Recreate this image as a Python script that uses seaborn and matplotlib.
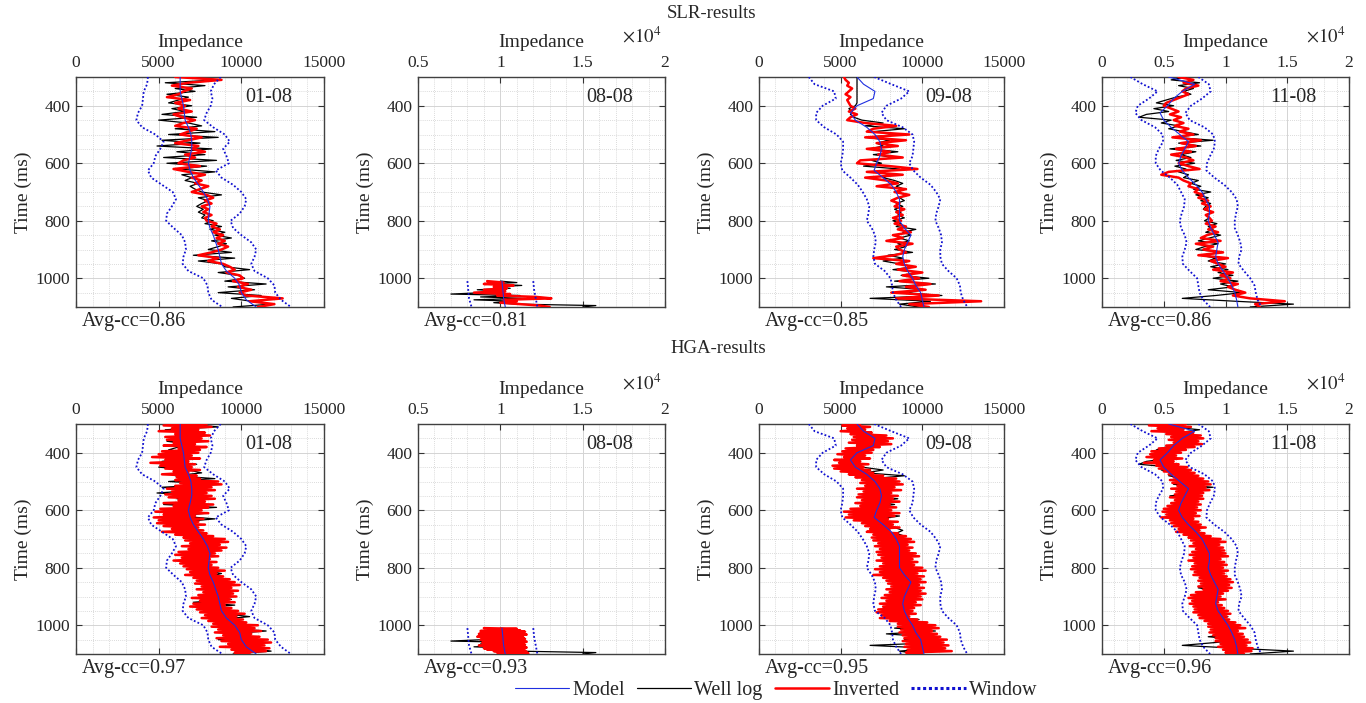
import numpy as np
import matplotlib
matplotlib.use("Agg")
import matplotlib.pyplot as plt
from matplotlib.lines import Line2D
from matplotlib.ticker import MultipleLocator, FuncFormatter
import seaborn as sns

# ---------------- data (impedance in thousands) ----------------
KILO = 1000.0
WELLS = ["01-08", "08-08", "09-08", "11-08"]
AVG_CC_SLR = [0.86, 0.81, 0.85, 0.86]
AVG_CC_HGA = [0.97, 0.93, 0.95, 0.96]

# sampling (start ms, step ms)
T0_FULL = 300
STEP_WIN = 25
STEP_LOG = 10
STEP_HGA = 5
T0_SHORT = 1010
STEP_WIN_SHORT = 30
STEP_LOG_SHORT = 5
STEP_HGA_SHORT = 2.5

# ---- 01-08 ----
model_0108 = [6.3, 6.3, 6.3, 6.4, 6.5, 6.55, 6.6, 6.8, 6.95, 7.0, 7.0, 6.9, 6.8, 6.9, 7.1, 7.4, 7.7,
              7.95, 8.1, 8.05, 8.0, 8.1, 8.3, 8.45, 8.6, 8.7, 8.8, 9.1, 9.6, 9.9, 10.0, 10.3, 10.9]
winlo_0108 = [4.35, 4.3, 4.1, 4.05, 4.0, 3.75, 3.65, 4.0, 4.8, 5.3, 5.1, 4.8, 4.7, 4.35, 4.55, 5.2, 5.85,
              6.05, 5.8, 5.5, 5.45, 5.9, 6.4, 6.6, 6.65, 6.5, 6.45, 6.8, 7.7, 7.95, 8.0, 8.2, 8.85]
winhi_0108 = [8.75, 8.35, 8.15, 8.25, 8.15, 7.9, 7.75, 8.3, 9.0, 9.3, 8.9, 9.1, 9.25, 8.45, 8.8, 9.5, 10.0,
              10.3, 10.2, 9.9, 9.35, 9.5, 10.0, 10.6, 10.9, 10.8, 10.6, 10.8, 11.6, 12.0, 12.05, 12.4, 13.0]
well_0108 = [6.5, 8.6, 5.4, 7.8, 6.0, 7.2, 5.5, 6.8, 6.2, 5.6,
             7.0, 5.8, 6.6, 5.2, 7.3, 5.0, 6.8, 7.6, 6.0, 8.4,
             5.6, 8.6, 5.2, 7.5, 4.9, 8.2, 6.1, 7.8, 5.3, 8.5,
             5.5, 7.9, 6.2, 8.4, 6.4, 7.0, 6.6, 7.4, 6.9, 7.2,
             7.6, 8.8, 7.4, 8.0, 7.6, 7.3, 7.7, 7.4, 7.8, 7.6,
             8.3, 7.8, 8.8, 8.1, 9.0, 8.4, 9.4, 8.2, 9.1, 8.6,
             8.0, 9.4, 7.1, 9.6, 7.4, 8.8, 9.0, 10.5, 8.6, 9.8,
             10.2, 9.0, 11.5, 9.2, 10.8, 8.6, 11.2, 9.4, 10.6, 11.8,
             9.5]
slr_0108 = [6.0, 8.8, 6.8, 5.8, 7.0, 6.5, 6.2, 5.5, 6.9, 6.0,
            6.6, 6.2, 7.0, 5.9, 6.4, 7.2, 6.5, 6.0, 7.3, 6.8,
            6.3, 7.6, 6.8, 6.0, 7.4, 7.0, 7.8, 6.6, 7.2, 6.5,
            6.2, 7.5, 5.9, 6.8, 7.8, 7.0, 7.6, 7.2, 8.0, 7.5,
            7.0, 7.9, 8.3, 7.8, 8.2, 7.6, 8.0, 7.7, 8.2, 7.8,
            7.9, 8.5, 8.2, 8.7, 8.3, 8.9, 8.5, 9.0, 8.6, 9.2,
            8.8, 8.2, 7.4, 8.6, 8.0, 8.9, 9.3, 9.6, 9.1, 9.9,
            10.1, 9.5, 10.4, 9.8, 10.6, 9.9, 10.3, 12.5, 10.5, 12.0,
            11.0]
hga_0108 = [7.9, 5.3, 8.2, 5.8, 7.4, 5.0, 7.8, 6.0, 8.1, 5.4,
            7.6, 5.5, 8.0, 5.9, 7.2, 5.3, 7.9, 6.2, 7.5, 5.2,
            7.4, 5.0, 7.0, 4.6, 7.5, 5.4, 6.8, 4.5, 7.2, 5.1,
            7.0, 5.4, 7.5, 5.9, 6.8, 5.2, 7.3, 6.1, 7.5, 6.0,
            8.6, 6.3, 8.8, 6.0, 8.2, 5.5, 8.4, 5.8, 7.9, 5.4,
            8.2, 5.6, 8.4, 6.2, 7.8, 5.3, 8.3, 5.9, 8.0, 5.1,
            7.6, 4.8, 8.0, 5.3, 7.2, 4.7, 7.7, 5.0, 7.4, 4.9,
            7.8, 5.3, 7.4, 5.8, 7.7, 5.2, 7.9, 6.0, 8.3, 6.5,
            9.0, 6.6, 9.2, 6.9, 8.7, 6.4, 9.1, 6.8, 8.8, 6.2,
            8.4, 6.0, 8.6, 6.4, 8.1, 5.9, 8.5, 6.3, 8.2, 6.5,
            8.6, 6.7, 9.0, 6.9, 8.5, 6.6, 8.9, 7.1, 9.3, 7.3,
            9.6, 7.2, 9.9, 7.6, 9.4, 7.3, 9.8, 7.7, 9.5, 7.4,
            9.7, 7.0, 9.3, 7.5, 9.6, 7.1, 9.0, 6.9, 9.4, 7.3,
            9.8, 7.5, 10.2, 7.8, 9.7, 7.6, 10.1, 8.0, 10.3, 8.3,
            11.0, 8.2, 10.8, 8.6, 11.2, 8.4, 10.6, 8.9, 11.1, 8.5,
            11.6, 8.8, 11.8, 9.2, 11.4, 8.7, 11.7, 9.4, 11.5, 9.6,
            10.5]

# ---- 08-08 (short interval) ----
model_0808 = [10.1, 10.15, 10.2, 10.3]
winlo_0808 = [8.0, 8.05, 8.1, 8.25]
winhi_0808 = [12.0, 12.05, 12.15, 12.25]
well_0808 = [10.0, 11.0, 9.2, 11.3, 9.6, 10.6, 8.6, 10.3, 9.0, 7.0,
             11.2, 8.8, 11.5, 8.4, 10.8, 9.6, 11.0, 15.8, 15.0]
slr_0808 = [9.2, 10.2, 9.0, 10.8, 9.6, 10.4, 9.0, 10.3, 8.4, 10.6,
            9.8, 12.2, 13.1, 10.2, 11.0, 10.0, 11.2, 12.4, 13.0]
hga_0808 = [9.0, 11.0, 9.3, 11.2, 8.8, 11.5, 9.1, 11.3, 8.7, 11.6,
            9.2, 11.1, 8.6, 11.4, 9.0, 11.5, 8.8, 11.2, 9.3, 11.6,
            8.9, 11.3, 9.1, 11.5, 8.7, 11.4, 9.4, 11.6, 9.0, 11.3,
            9.2, 11.5, 9.6, 11.6, 9.8, 11.7, 10.5]

# ---- 09-08 ----
model_0908 = [6.0, 6.4, 7.1, 7.0, 6.0, 5.6, 5.9, 6.6, 7.1, 7.4, 7.5, 7.4, 7.2, 7.05, 7.6, 8.1, 8.4,
              8.6, 8.6, 8.6, 8.6, 8.9, 9.3, 9.1, 8.9, 8.8, 8.9, 9.1, 9.4, 9.6, 9.9, 10.0, 10.1]
winlo_0908 = [3.05, 3.4, 4.6, 4.7, 3.9, 3.5, 3.5, 4.0, 4.75, 5.15, 5.15, 5.1, 5.0, 5.1, 5.6, 6.05, 6.35,
              6.6, 6.75, 6.7, 6.6, 6.9, 7.1, 7.15, 7.05, 7.0, 7.1, 7.7, 8.05, 8.15, 8.2, 8.4, 8.7]
winhi_0908 = [7.05, 8.1, 9.2, 8.7, 7.8, 7.5, 7.8, 8.8, 9.4, 9.5, 9.45, 9.4, 9.2, 9.45, 9.9, 10.5, 10.85,
              11.1, 11.0, 10.85, 10.8, 11.0, 11.15, 11.2, 11.1, 11.1, 11.2, 11.6, 12.1, 12.3, 12.35, 12.5, 12.75]
well_0908 = [6.0, 6.0, 6.0, 6.0, 6.0, 6.0, 6.0, 6.0, 6.0, 6.0,
             5.9, 5.5, 5.7, 5.6, 5.8, 6.3, 7.6, 6.5, 8.9, 7.0,
             8.4, 6.6, 8.0, 7.2, 7.6, 6.8, 8.5, 7.0, 8.3, 6.9,
             7.5, 6.4, 8.6, 7.4, 8.0, 7.6, 8.3, 8.8, 8.4, 8.9,
             8.5, 9.0, 8.6, 8.9, 8.4, 8.8, 8.3, 8.7, 8.5, 8.9,
             8.2, 8.7, 8.4, 9.6, 8.8, 9.3, 8.6, 9.2, 8.5, 9.0,
             8.3, 9.4, 7.9, 8.8, 7.6, 8.6, 9.5, 8.2, 9.8, 8.7,
             10.4, 8.3, 10.8, 7.8, 10.2, 8.9, 11.2, 6.8, 10.5, 8.6,
             9.8]
slr_0908 = [5.2, 5.3, 5.5, 5.4, 5.7, 5.5, 5.3, 5.6, 5.4, 5.5,
            5.6, 5.9, 5.5, 6.0, 5.6, 5.4, 6.5, 8.4, 7.0, 6.6,
            9.2, 6.5, 9.0, 7.2, 8.5, 6.6, 8.0, 7.3, 8.8, 6.2,
            6.0, 8.0, 9.7, 6.6, 8.8, 6.5, 7.8, 8.5, 7.2, 9.0,
            8.3, 9.2, 8.5, 8.1, 8.6, 8.3, 8.9, 8.4, 8.8, 8.2,
            8.7, 8.3, 9.0, 8.5, 9.3, 8.2, 8.8, 7.8, 9.4, 8.4,
            8.6, 9.0, 8.3, 7.0, 9.2, 8.4, 9.6, 8.5, 10.0, 8.8,
            9.8, 8.6, 10.5, 9.0, 10.2, 8.1, 11.0, 8.4, 13.6, 9.2,
            10.4]
hga_0908 = [6.2, 5.1, 6.8, 5.4, 6.5, 5.0, 6.9, 5.6, 7.8, 5.8,
            8.2, 5.7, 7.9, 5.5, 8.1, 6.0, 7.4, 5.3, 7.0, 5.1,
            6.9, 4.8, 6.5, 5.2, 6.8, 4.6, 6.2, 4.9, 6.7, 4.5,
            6.4, 4.6, 6.8, 5.0, 7.0, 5.5, 7.6, 5.9, 8.4, 6.3,
            8.6, 6.2, 8.8, 6.5, 8.3, 6.0, 8.7, 6.4, 8.1, 6.1,
            8.5, 6.0, 8.2, 6.3, 8.6, 5.9, 8.0, 6.2, 8.4, 5.6,
            8.1, 5.2, 8.6, 5.5, 8.3, 5.3, 7.9, 5.8, 8.5, 6.3,
            8.2, 6.5, 8.6, 6.8, 8.0, 6.6, 8.5, 7.0, 9.0, 6.9,
            9.3, 7.0, 9.5, 7.3, 9.1, 7.1, 9.4, 7.4, 9.2, 7.2,
            9.6, 7.3, 9.8, 7.5, 9.4, 7.2, 9.7, 7.6, 9.5, 7.4,
            10.0, 7.1, 10.2, 7.4, 9.7, 7.0, 10.1, 7.6, 9.9, 7.8,
            10.2, 7.9, 9.8, 8.1, 10.1, 7.8, 9.9, 8.0, 10.2, 7.7,
            9.9, 7.5, 10.0, 7.8, 9.6, 7.4, 9.9, 7.6, 9.5, 7.3,
            9.4, 7.2, 9.6, 7.5, 9.2, 7.4, 9.7, 8.0, 10.3, 8.5,
            10.8, 8.5, 11.0, 8.7, 10.6, 8.6, 10.9, 8.8, 11.1, 8.9,
            11.5, 8.8, 11.3, 9.0, 11.6, 8.9, 11.4, 9.1, 11.8, 9.0,
            10.0]

# ---- 11-08 ----
model_1108 = [5.4, 7.5, 6.5, 5.8, 5.3, 4.7, 5.0, 5.6, 6.3, 7.0, 6.7, 6.4, 6.2, 6.5, 7.0, 7.6, 8.1,
              8.4, 8.7, 8.7, 8.6, 8.8, 9.1, 9.4, 9.3, 9.2, 9.4, 9.8, 10.2, 10.5, 10.75, 10.9, 11.0]
winlo_1108 = [2.3, 3.3, 4.5, 3.8, 2.9, 2.7, 3.2, 4.3, 4.9, 4.95, 4.6, 4.35, 4.35, 4.75, 5.5, 6.1, 6.4,
              6.7, 6.65, 6.45, 6.3, 6.4, 6.7, 6.85, 6.7, 6.5, 6.55, 7.1, 7.7, 7.8, 7.9, 8.2, 8.75]
winhi_1108 = [7.8, 8.65, 8.8, 8.1, 7.2, 6.75, 7.1, 8.3, 9.0, 9.15, 9.05, 8.75, 8.5, 8.45, 9.1, 9.9, 10.5,
              10.9, 11.0, 10.85, 10.75, 10.75, 11.0, 11.2, 11.3, 11.1, 11.05, 11.5, 12.0, 12.35, 12.45, 12.6, 12.9]
well_1108 = [6.8, 5.6, 7.9, 6.2, 7.4, 6.6, 7.2, 6.0, 5.2, 4.4,
             5.8, 4.2, 5.4, 3.6, 3.0, 5.6, 4.8, 6.2, 5.4, 6.6,
             7.8, 5.8, 9.0, 6.2, 8.0, 5.5, 7.6, 6.4, 7.2, 6.0,
             7.5, 5.9, 6.8, 6.2, 7.0, 6.6, 7.8, 7.2, 8.0, 7.4,
             8.8, 7.6, 8.6, 8.0, 8.8, 8.4, 8.2, 8.9, 8.5, 8.7,
             8.3, 9.3, 8.6, 9.0, 8.4, 9.6, 8.7, 7.8, 9.4, 8.3,
             7.6, 9.8, 8.0, 9.2, 8.6, 10.0, 8.8, 10.2, 9.4, 10.6,
             9.0, 11.0, 9.6, 10.6, 8.6, 11.4, 9.2, 6.5, 10.8, 15.5,
             12.0]
slr_1108 = [6.2, 7.4, 6.6, 7.8, 6.8, 6.5, 7.0, 6.4, 5.8, 5.2,
            5.0, 5.6, 6.2, 5.5, 6.4, 5.8, 6.6, 5.9, 7.0, 6.3,
            7.4, 5.7, 8.0, 6.4, 7.6, 6.0, 7.2, 5.6, 6.8, 7.4,
            6.2, 7.0, 7.9, 5.4, 4.8, 6.2, 6.6, 7.2, 7.0, 7.8,
            7.5, 8.2, 7.8, 8.6, 8.1, 8.8, 8.3, 9.0, 8.4, 8.7,
            8.9, 8.4, 9.2, 8.6, 9.4, 8.5, 8.0, 9.6, 7.6, 9.0,
            8.2, 9.8, 7.8, 10.2, 8.8, 9.4, 10.0, 9.0, 10.6, 9.6,
            10.4, 9.6, 11.0, 10.2, 10.8, 11.6, 10.6, 12.0, 14.8, 12.4,
            12.8]
hga_1108 = [6.8, 3.8, 7.2, 4.5, 6.6, 4.0, 7.4, 5.2, 8.0, 5.6,
            8.2, 5.4, 7.8, 5.8, 8.1, 5.2, 7.5, 4.6, 6.8, 4.0,
            6.4, 3.9, 6.0, 3.6, 6.5, 4.2, 5.8, 3.4, 6.2, 4.4,
            6.9, 4.6, 7.2, 5.0, 7.5, 5.4, 7.8, 5.8, 8.2, 5.5,
            8.6, 5.7, 8.8, 6.1, 8.4, 5.6, 8.7, 6.0, 8.2, 5.9,
            8.1, 5.5, 8.2, 5.9, 7.8, 5.6, 8.0, 5.3, 7.7, 5.0,
            8.0, 4.9, 7.6, 5.2, 7.9, 4.8, 7.4, 5.5, 7.8, 5.6,
            8.0, 5.8, 8.4, 6.2, 7.9, 6.0, 8.3, 6.6, 8.8, 7.0,
            9.6, 7.2, 10.0, 7.4, 9.5, 7.1, 9.8, 7.6, 9.9, 7.3,
            10.0, 7.1, 10.2, 7.4, 9.6, 7.0, 9.9, 7.5, 10.1, 7.3,
            9.8, 7.2, 10.2, 7.5, 9.9, 7.4, 10.1, 7.9, 10.4, 7.8,
            10.6, 8.0, 10.3, 7.8, 10.5, 8.2, 10.2, 7.6, 9.8, 7.2,
            9.6, 7.0, 10.0, 7.3, 9.4, 7.1, 9.7, 7.4, 9.9, 7.5,
            10.2, 7.4, 10.4, 7.8, 10.1, 7.9, 10.3, 8.3, 10.8, 8.6,
            11.2, 8.6, 11.6, 8.8, 11.0, 8.7, 11.4, 9.0, 11.5, 9.2,
            11.8, 9.2, 12.0, 9.6, 11.7, 9.4, 12.2, 9.8, 12.1, 10.0,
            11.5]

DATA = {
    "01-08": dict(model=model_0108, lo=winlo_0108, hi=winhi_0108, well=well_0108, slr=slr_0108, hga=hga_0108, short=False),
    "08-08": dict(model=model_0808, lo=winlo_0808, hi=winhi_0808, well=well_0808, slr=slr_0808, hga=hga_0808, short=True),
    "09-08": dict(model=model_0908, lo=winlo_0908, hi=winhi_0908, well=well_0908, slr=slr_0908, hga=hga_0908, short=False),
    "11-08": dict(model=model_1108, lo=winlo_1108, hi=winhi_1108, well=well_1108, slr=slr_1108, hga=hga_1108, short=False),
}
XLIMS = {"01-08": (0, 15000), "08-08": (5000, 20000), "09-08": (0, 15000), "11-08": (0, 20000)}
SCI = {"01-08": False, "08-08": True, "09-08": False, "11-08": True}

# ---------------- style ----------------
sns.set_style("white")
plt.rcParams["font.family"] = ["Liberation Serif", "DejaVu Serif"]
plt.rcParams["mathtext.fontset"] = "stix"

C_MODEL = "#1f2fe0"
C_WELL = "#000000"
C_INV = "#ff0000"
C_WIN = "#1010d0"
WIN_LS = (0, (1.0, 1.2))

fig = plt.figure(figsize=(13.66, 7.03), dpi=100)
lefts = [76, 418, 759, 1102]
widths = [248, 247, 245, 247]
row_tops = [77, 424]
H = 230


def times(t0, step, n):
    return t0 + step * np.arange(n)


def draw(ax, name, inv_key, avg):
    d = DATA[name]
    if d["short"]:
        tw = times(T0_SHORT, STEP_WIN_SHORT, len(d["lo"]))
        tm = times(T0_SHORT, STEP_WIN_SHORT, len(d["model"]))
        tl = times(T0_SHORT, STEP_LOG_SHORT, len(d["well"]))
        ts = times(T0_SHORT, STEP_LOG_SHORT, len(d["slr"]))
        th = times(T0_SHORT, STEP_HGA_SHORT, len(d["hga"]))
    else:
        tw = times(T0_FULL, STEP_WIN, len(d["lo"]))
        tm = times(T0_FULL, STEP_WIN, len(d["model"]))
        tl = times(T0_FULL, STEP_LOG, len(d["well"]))
        ts = times(T0_FULL, STEP_LOG, len(d["slr"]))
        th = times(T0_FULL, STEP_HGA, len(d["hga"]))
    kw = dict(ax=ax, orient="y", sort=False, estimator=None, legend=False)
    sns.lineplot(x=np.array(d["well"]) * KILO, y=tl, color=C_WELL, lw=0.9, zorder=3, **kw)
    if inv_key == "slr":
        sns.lineplot(x=np.array(d["slr"]) * KILO, y=ts, color=C_INV, lw=1.8, zorder=4, **kw)
    else:
        sns.lineplot(x=np.array(d["hga"]) * KILO, y=th, color=C_INV, lw=1.8, zorder=4, **kw)
    sns.lineplot(x=np.array(d["model"]) * KILO, y=tm, color=C_MODEL, lw=0.8, zorder=5, **kw)
    sns.lineplot(x=np.array(d["lo"]) * KILO, y=tw, color=C_WIN, lw=1.3, linestyle=WIN_LS, zorder=6, **kw)
    sns.lineplot(x=np.array(d["hi"]) * KILO, y=tw, color=C_WIN, lw=1.3, linestyle=WIN_LS, zorder=6, **kw)

    x0, x1 = XLIMS[name]
    ax.set_xlim(x0, x1)
    ax.set_ylim(1100, 300)
    ax.xaxis.set_major_locator(MultipleLocator(5000))
    ax.xaxis.set_minor_locator(MultipleLocator(1000))
    ax.yaxis.set_major_locator(MultipleLocator(200))
    ax.yaxis.set_minor_locator(MultipleLocator(50))
    ax.set_yticks([400, 600, 800, 1000])
    if SCI[name]:
        ax.xaxis.set_major_formatter(FuncFormatter(lambda v, p: f"{v / 1e4:g}"))
        ax.text(0.985, 1.175, r"$\times10^{4}$", transform=ax.transAxes, ha="right", va="center", fontsize=13.5)
    else:
        ax.xaxis.set_major_formatter(FuncFormatter(lambda v, p: f"{v:.0f}"))
    ax.xaxis.tick_top()
    ax.xaxis.set_label_position("top")
    ax.tick_params(which="major", direction="in", length=4, width=0.8, color="#333333",
                   top=True, bottom=True, left=True, right=True,
                   labeltop=True, labelbottom=False, labelsize=12.5, pad=4.0)
    ax.tick_params(which="minor", length=0)
    ax.grid(which="major", color="#d4d4d4", lw=0.7, ls="-", zorder=0)
    ax.grid(which="minor", color="#cfcfcf", lw=0.6, ls=(0, (1, 1.5)), zorder=0)
    ax.set_axisbelow(True)
    for s in ax.spines.values():
        s.set_color("#404040")
        s.set_linewidth(1.0)
    ax.set_xlabel("Impedance", fontsize=14, labelpad=6)
    ax.set_ylabel("Time (ms)", fontsize=14, labelpad=3)
    ax.text(0.775, 0.912, name, transform=ax.transAxes, ha="center", va="center", fontsize=14.5, zorder=10)
    ax.text(0.025, -0.02, f"Avg-cc={avg:.2f}", transform=ax.transAxes, ha="left", va="top", fontsize=14.5)


for r, (key, ccs) in enumerate([("slr", AVG_CC_SLR), ("hga", AVG_CC_HGA)]):
    for c, name in enumerate(WELLS):
        top = row_tops[r]
        ax = fig.add_axes([lefts[c] / 1366, 1 - (top + H) / 703, widths[c] / 1366, H / 703])
        draw(ax, name, key, ccs[c])

fig.text(712 / 1366, 1 - 14 / 703, "SLR-results", ha="center", va="center", fontsize=13.5)
fig.text(718 / 1366, 1 - 348 / 703, "HGA-results", ha="center", va="center", fontsize=13.5)

handles = [
    Line2D([], [], color=C_MODEL, lw=0.8),
    Line2D([], [], color=C_WELL, lw=0.9),
    Line2D([], [], color=C_INV, lw=1.8),
    Line2D([], [], color=C_WIN, lw=2.2, linestyle=(0, (1.0, 0.9))),
]
fig.legend(handles, ["Model", "Well log", "Inverted", "Window"], loc="center",
           bbox_to_anchor=(776 / 1366, 1 - 690 / 703), ncol=4, frameon=False,
           fontsize=14.5, handlelength=2.7, handletextpad=0.15, columnspacing=0.6)

fig.savefig("out.png", dpi=100)
